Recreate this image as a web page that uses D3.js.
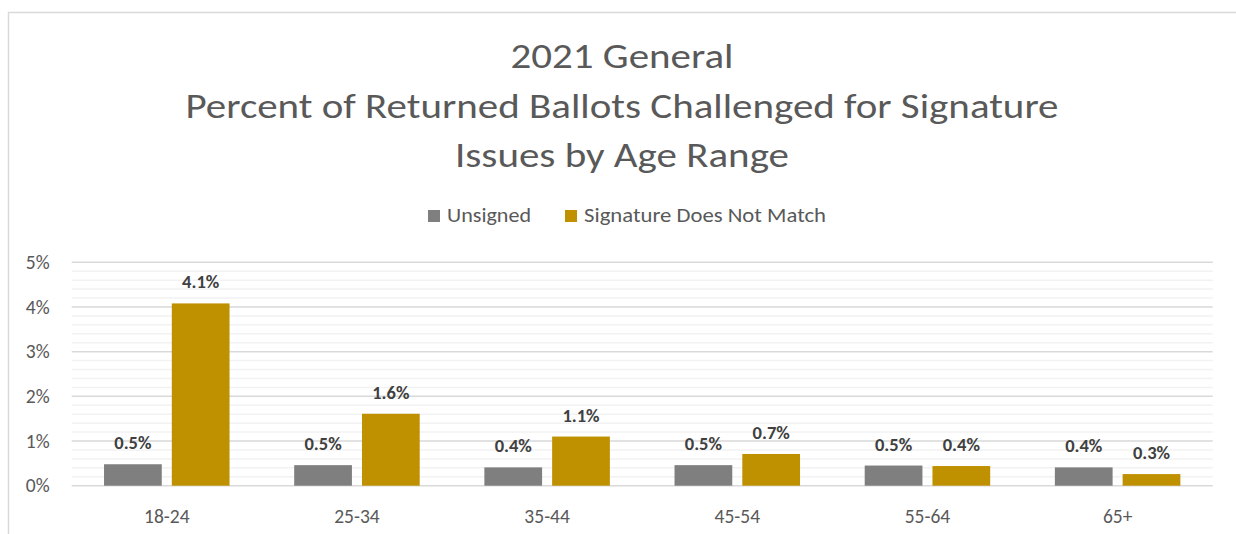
<!DOCTYPE html>
<html>
<head>
<meta charset="utf-8">
<script src="https://cdn.jsdelivr.net/npm/d3@7"></script>
<style>
body { margin:0; background:#fff; }
svg { display:block; font-family: Carlito, Calibri, Lato, "Open Sans", sans-serif; }
.axis path, .axis line { display:none; }
.axis text { fill:#595959; font-size:19.5px; font-family: Carlito, Calibri, Lato, "Open Sans", sans-serif; }
</style>
</head>
<body>
<svg width="1236" height="534"></svg>
<script>
// values
var categories=["18-24","25-34","35-44","45-54","55-64","65+"];
var unsigned=[0.0048,0.0046,0.0041,0.0046,0.00451,0.0041];
var noMatch=[0.0408,0.0161,0.0110,0.0071,0.0044,0.0026];
var seriesNames=["Unsigned","Signature Does Not Match"];
var seriesColors=["#7f7f7f","#bf9000"];
var yTicks=[0,0.01,0.02,0.03,0.04,0.05];
var titleLines=["2021 General","Percent of Returned Ballots Challenged for Signature","Issues by Age Range"];

var svg=d3.select("svg");
var plotLeft=71.7, plotRight=1212.7, plotTop=262.3, plotBottom=485.7;

// chart border (only left and top show)
svg.append("path").attr("d","M8.5,534V12.5H1236").attr("fill","none").attr("stroke","#d9d9d9").attr("stroke-width",1.5);

var x0=d3.scaleBand().domain(categories).range([plotLeft,plotRight]).paddingInner(0.34).paddingOuter(0.17);
var x1=d3.scaleBand().domain([0,1]).range([0,x0.bandwidth()]).paddingInner(0.148);
var y=d3.scaleLinear().domain([0,0.05]).range([plotBottom,plotTop]);

// minor grid
var minor=d3.range(0,0.0501,0.002).filter(function(d){return Math.abs(d*100-Math.round(d*100))>1e-6;});
svg.append("g").selectAll("line").data(minor).enter().append("line")
	.attr("x1",plotLeft).attr("x2",plotRight)
	.attr("y1",function(d){return y(d);}).attr("y2",function(d){return y(d);})
	.attr("stroke","#f2f2f2").attr("stroke-width",1.5);
// major grid
svg.append("g").selectAll("line").data(yTicks).enter().append("line")
	.attr("x1",plotLeft).attr("x2",plotRight)
	.attr("y1",function(d){return y(d);}).attr("y2",function(d){return y(d);})
	.attr("stroke","#d9d9d9").attr("stroke-width",1.5);

svg.append("g").attr("class","axis").attr("transform","translate("+(plotLeft-14)+",0)")
	.call(d3.axisLeft(y).tickValues(yTicks).tickFormat(d3.format(".0%")).tickSize(0).tickPadding(8));

svg.append("g").attr("class","axis").attr("transform","translate(0,"+(plotBottom+19)+")")
	.call(d3.axisBottom(x0).tickSize(0).tickPadding(4));

var rows=categories.map(function(c,i){return {cat:c,vals:[unsigned[i],noMatch[i]]};});
var fmt=d3.format(".1%");

var groups=svg.append("g").selectAll("g").data(rows).enter().append("g")
	.attr("transform",function(d){return "translate("+x0(d.cat)+",0)";});

groups.selectAll("rect").data(function(d){return d.vals;}).enter().append("rect")
	.attr("x",function(d,i){return x1(i);})
	.attr("width",x1.bandwidth())
	.attr("y",function(d){return y(d);})
	.attr("height",function(d){return plotBottom-y(d);})
	.attr("fill",function(d,i){return seriesColors[i];});

groups.selectAll("text").data(function(d){return d.vals;}).enter().append("text")
	.attr("x",function(d,i){return x1(i)+x1.bandwidth()/2;})
	.attr("y",function(d){return y(d)-15;})
	.attr("text-anchor","middle")
	.attr("fill","#404040").attr("font-weight","bold").attr("font-size",18.5)
	.text(function(d){return fmt(d);});

// title
var titleW=[223,873,334];
svg.append("g").selectAll("text").data(titleLines).enter().append("text")
	.attr("x",function(d,i){return 622-titleW[i]/2;})
	.attr("y",function(d,i){return 68+i*49.5;})
	.attr("textLength",function(d,i){return titleW[i];})
	.attr("lengthAdjust","spacingAndGlyphs")
	.attr("fill","#595959").attr("font-size",34)
	.text(function(d){return d;});

// legend
var legX=[428,565], legTextW=[84,242];
var leg=svg.append("g").selectAll("g").data(seriesNames).enter().append("g");
leg.append("rect").attr("x",function(d,i){return legX[i];}).attr("y",210)
	.attr("width",12).attr("height",12).attr("fill",function(d,i){return seriesColors[i];});
leg.append("text").attr("x",function(d,i){return legX[i]+19;}).attr("y",222)
	.attr("textLength",function(d,i){return legTextW[i];}).attr("lengthAdjust","spacingAndGlyphs")
	.attr("fill","#595959").attr("font-size",19.5)
	.text(function(d){return d;});
</script>
</body>
</html>
